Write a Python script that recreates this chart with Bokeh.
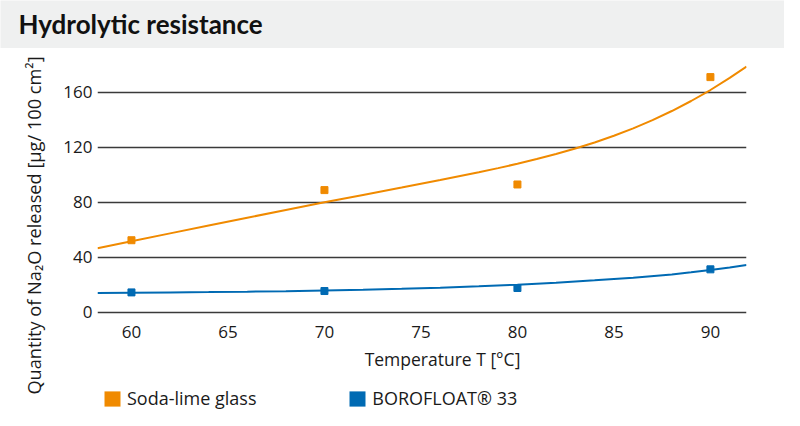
import math
import numpy as np
from bokeh.plotting import figure
from bokeh.models import Range1d, FixedTicker, Legend, LegendItem
from bokeh.layouts import column, row
from bokeh.embed import file_html
from bokeh.resources import INLINE
from bokeh.core.properties import value

# ---- data ----
temps = [60, 70, 80, 90]
soda_lime = [52.4, 88.9, 93.0, 171.2]
borofloat = [14.4, 15.4, 17.6, 31.2]

# trend lines
soda_fit_t = [58.24, 60, 62, 64, 66, 68, 70, 72, 74, 76, 78, 79, 80, 81, 82, 83, 84, 85,
              86, 87, 88, 89, 90, 91, 91.87]
soda_fit = [46.6, 51.7, 57.4, 63.1, 68.8, 74.4, 80.0, 85.4, 90.8, 96.3, 101.9, 104.9, 108.1,
            111.5, 115.2, 119.2, 123.6, 128.5, 133.9, 139.9, 146.5, 153.8, 161.8, 170.6, 178.9]
boro_fit_t = [58.24, 60, 62, 64, 66, 68, 70, 72, 74, 76, 78, 80, 82, 84, 86, 88, 89, 90, 91, 91.87]
boro_fit = [14.0, 14.15, 14.35, 14.6, 14.9, 15.3, 15.8, 16.35, 17.0, 17.75, 18.8, 20.0, 21.5,
            23.2, 25.1, 27.5, 29.0, 30.7, 32.6, 34.4]

x_ticks = [60, 65, 70, 75, 80, 85, 90]
y_ticks = [0, 40, 80, 120, 160]

title_text = "Hydrolytic resistance"
x_label = "Temperature T [°C]"
y_label = "Quantity of Na₂O released [µg/ 100 cm²]"
series_names = ["Soda-lime glass", "BOROFLOAT® 33"]

ORANGE = "#f08a00"
BLUE = "#006ab3"
GRAY = "#eff0f0"
TXT = "#1a1a1a"
FONT = "Open Sans"
W, H = 784, 410
HEAD_H = 48
LEFT_W = 58
MAIN_H = 300
OVERLAP = 6
FOOT_H = H - HEAD_H - MAIN_H + OVERLAP


def plain(fig, bg="white"):
    try:
        fig.frame_align = False
    except Exception:
        pass
    fig.grid.visible = False
    fig.background_fill_color = bg
    fig.border_fill_color = bg
    fig.outline_line_color = None


def canvas_fig(w, h, bg="white"):
    f = figure(width=w, height=h, x_range=Range1d(0, w), y_range=Range1d(0, h),
               output_backend="svg", toolbar_location=None, min_border=0,
               x_axis_location=None, y_axis_location=None)
    plain(f, bg)
    return f


# ---- title band ----
head = canvas_fig(W, HEAD_H, GRAY)
head.text(x=[18], y=[HEAD_H - 23.3], text=[title_text], text_font=value("Lato"),
          text_font_style="bold", text_font_size="26px", text_color="#111111",
          text_baseline="alphabetic", text_align="left")

# ---- y-axis title strip ----
yfig = canvas_fig(LEFT_W, H - HEAD_H)
yfig.text(x=[33], y=[(H - HEAD_H) - (225 - HEAD_H)], text=[y_label], angle=math.pi / 2,
          text_font=value(FONT), text_font_size="18.2px", text_color=TXT,
          text_baseline="alphabetic", text_align="center")

# ---- main chart ----
p = figure(width=W - LEFT_W, height=MAIN_H, x_range=Range1d(58.24, 91.87),
           y_range=Range1d(-1.7, 183.3), output_backend="svg", toolbar_location=None,
           min_border_left=39, min_border_right=38, min_border_top=12, min_border_bottom=34)
plain(p)

p.ygrid.visible = True
p.ygrid.ticker = FixedTicker(ticks=y_ticks)
p.ygrid.grid_line_color = "#3a3a3a"
p.ygrid.grid_line_width = 1.6

p.xaxis.ticker = FixedTicker(ticks=x_ticks)
p.yaxis.ticker = FixedTicker(ticks=y_ticks)
for ax in (p.xaxis, p.yaxis):
    ax.axis_line_color = None
    ax.major_tick_line_color = None
    ax.minor_tick_line_color = None
    ax.major_tick_out = 0
    ax.minor_tick_out = 0
    ax.major_label_text_font = FONT
    ax.major_label_text_font_size = "17px"
    ax.major_label_text_color = TXT
p.yaxis.major_label_standoff = 5
p.xaxis.major_label_standoff = 11

p.line(soda_fit_t, soda_fit, line_color=ORANGE, line_width=2)
p.line(boro_fit_t, boro_fit, line_color=BLUE, line_width=2)
p.scatter(temps, soda_lime, marker="square", size=7, color=ORANGE)
p.scatter(temps, borofloat, marker="square", size=7, color=BLUE)

# ---- footer: x-axis title and legend (overlaps the blank bottom strip of the chart) ----
foot = canvas_fig(W - LEFT_W, FOOT_H, None)
foot.margin = (-OVERLAP, 0, 0, 0)
foot.text(x=[442 - LEFT_W], y=[FOOT_H - 16], text=[x_label],
          text_font=value(FONT), text_font_size="17.5px", text_color=TXT,
          text_baseline="alphabetic", text_align="center")

nan = np.array([np.nan])
sw1 = foot.quad(left=nan, right=nan, top=nan, bottom=nan, fill_color=ORANGE, line_color=None)
sw2 = foot.quad(left=nan, right=nan, top=nan, bottom=nan, fill_color=BLUE, line_color=None)
for name, r, lx in ((series_names[0], sw1, 102 - LEFT_W), (series_names[1], sw2, 347.3 - LEFT_W)):
    lg = Legend(items=[LegendItem(label=name, renderers=[r])], location=(lx, 0),
                orientation="horizontal", glyph_width=20, glyph_height=19,
                label_standoff=5, padding=0, margin=0, spacing=0,
                label_text_font=FONT, label_text_font_size="18px", label_text_color=TXT,
                border_line_color=None, background_fill_alpha=0)
    foot.add_layout(lg, "center")

layout = column(head, row(yfig, column(p, foot)))
open("out.html", "w").write(file_html(layout, INLINE))
